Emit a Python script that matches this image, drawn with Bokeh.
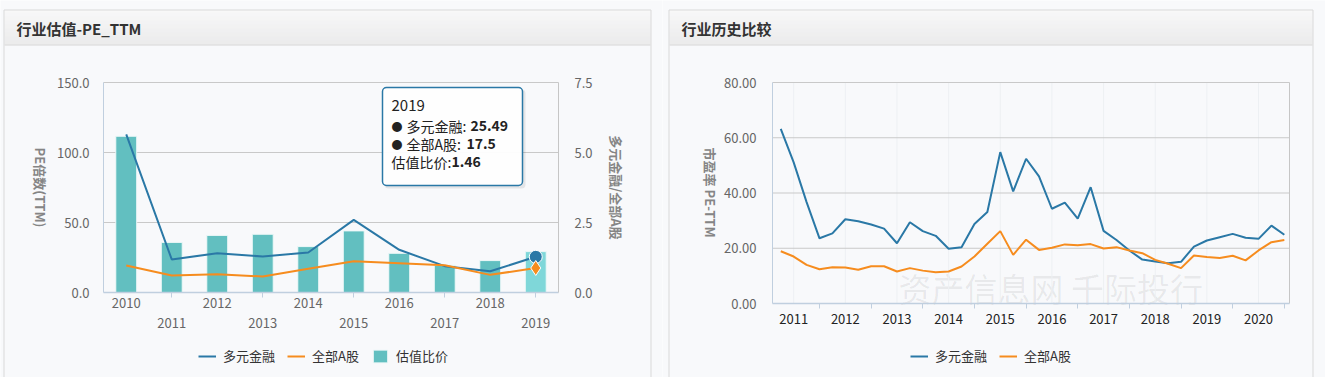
import math
from bokeh.plotting import figure
from bokeh.layouts import row
from bokeh.models import (ColumnDataSource, Range1d, LinearAxis, FixedTicker,
                          NumeralTickFormatter, Legend, LegendItem, Label, BoxAnnotation,
                          CustomJSTickFormatter)
from bokeh.embed import file_html
from bokeh.resources import INLINE

# ---------------- data: left chart (annual) ----------------
years = ["2010", "2011", "2012", "2013", "2014", "2015", "2016", "2017", "2018", "2019"]
sector_pe = [112.9, 23.6, 28.1, 25.7, 28.6, 51.9, 30.5, 18.8, 15.2, 25.49]   # 多元金融
market_pe = [19.3, 12.1, 13.1, 11.4, 16.9, 22.4, 20.9, 19.5, 12.6, 17.5]     # 全部A股
pe_ratio = [5.58, 1.79, 2.04, 2.08, 1.64, 2.20, 1.40, 0.97, 1.14, 1.46]      # 估值比价
left_ticks = [0, 50, 100, 150]
right_ticks = [0, 2.5, 5, 7.5]

# ---------------- data: right chart (quarterly) ----------------
quarters = ["2011-03", "2011-06", "2011-09", "2011-12", "2012-03", "2012-06", "2012-09", "2012-12",
            "2013-03", "2013-06", "2013-09", "2013-12", "2014-03", "2014-06", "2014-09", "2014-12",
            "2015-03", "2015-06", "2015-09", "2015-12", "2016-03", "2016-06", "2016-09", "2016-12",
            "2017-03", "2017-06", "2017-09", "2017-12", "2018-03", "2018-06", "2018-09", "2018-12",
            "2019-03", "2019-06", "2019-09", "2019-12", "2020-03", "2020-06", "2020-09", "2020-12"]
sector_hist = [63.2, 51.1, 36.7, 23.6, 25.4, 30.5, 29.8, 28.6, 27.1, 21.8,
               29.4, 26.2, 24.5, 19.8, 20.4, 28.8, 33.1, 54.8, 40.6, 52.4,
               46.0, 34.3, 36.5, 30.7, 42.1, 26.3, 23.0, 19.2, 15.9, 15.2,
               14.6, 15.1, 20.6, 22.8, 24.0, 25.2, 23.8, 23.4, 28.2, 24.9]
market_hist = [18.9, 17.0, 14.0, 12.4, 13.1, 13.0, 12.2, 13.5, 13.5, 11.6,
               12.8, 11.9, 11.3, 11.6, 13.4, 17.0, 21.6, 26.2, 17.6, 23.1,
               19.4, 20.2, 21.4, 21.1, 21.5, 19.9, 20.4, 19.2, 18.2, 15.8,
               14.4, 12.8, 17.4, 16.8, 16.5, 17.3, 15.6, 19.2, 22.2, 23.0]
year_labels = ["2011", "2012", "2013", "2014", "2015", "2016", "2017", "2018", "2019", "2020"]
hist_ticks = [0, 20, 40, 60, 80]

# ---------------- styles ----------------
FONT = "Noto Sans CJK SC"
BG = "#f8f9fb"
BORDER = "#d9d9d9"
BLUE = "#2a78a6"
ORANGE = "#f68c1e"
TEAL = "#62bfc0"
TEAL_HI = "#7fd7d9"
GRID = "#c9c9c9"
AXIS = "#c0cfdf"
H = 377


def add_panel(p, fx, fy, left, right, title):
    """Panel frame + gradient header (page pixel positions -> data via fx/fy)."""
    n = 34
    for i in range(n):
        t = i / (n - 1)
        c = int(round(0xf7 * (1 - t) + 0xe7 * t))
        p.add_layout(BoxAnnotation(left=fx(left + 1), right=fx(right), top=fy(10 + i),
                                   bottom=fy(11 + i), fill_color="#%02x%02x%02x" % (c, c, c),
                                   fill_alpha=1, line_color=None, level="underlay"))
    p.add_layout(BoxAnnotation(left=fx(left + 1), right=fx(right), top=fy(44), bottom=fy(45),
                               fill_color="#d5d5d5", fill_alpha=1, line_color=None,
                               level="underlay"))
    p.add_layout(BoxAnnotation(left=fx(left + 0.5), right=fx(right + 0.5), top=fy(9.5),
                               bottom=fy(440), fill_alpha=0, line_color=BORDER, line_alpha=1,
                               line_width=1, level="underlay"))
    p.add_layout(Label(x=fx(left + 13), y=fy(27.5), text=title, text_baseline="middle",
                       text_font=FONT, text_font_size="15px", text_font_style="bold",
                       text_color="#333333"))


def style_legend(lg):
    lg.background_fill_alpha = 0
    lg.border_line_color = None
    lg.label_text_font = FONT
    lg.label_text_font_size = "13px"
    lg.label_text_color = "#333333"
    lg.glyph_width = 18
    lg.glyph_height = 16
    lg.label_standoff = 7
    lg.spacing = 12
    lg.padding = 2
    lg.margin = 0


def style_axis(a, color="#666666"):
    a.major_label_text_font = FONT
    a.major_label_text_font_size = "13px"
    a.major_label_text_color = color
    a.minor_tick_line_color = None


def axis_title(p, x, y, text):
    p.add_layout(Label(x=x, y=y, angle=-math.pi / 2, text=text, text_align="center",
                       text_baseline="middle", text_font=FONT, text_font_size="13px",
                       text_font_style="bold", text_color="#858585"))


# ======================= LEFT CHART =======================
# plot area in page pixels: x 103..558, y 82..292 ; canvas 0..662 x 0..377
XL0, XL1 = 2009.5, 2019.5
KX1 = 455 / (XL1 - XL0)
KY1 = 210 / 150
KR1 = 210 / 7.5


def lx(px):
    return XL0 + (px - 103) / KX1


def ly(py):
    return (292 - py) / KY1


def lr(py):
    return (292 - py) / KR1


year_num = [int(y) for y in years]
src1 = ColumnDataSource(dict(
    x=year_num, sector=sector_pe, market=market_pe, ratio=pe_ratio,
    color=[TEAL] * (len(years) - 1) + [TEAL_HI],
))

p1 = figure(width=662, height=H, x_range=Range1d(lx(0), lx(662)), y_range=Range1d(ly(H), ly(0)),
            output_backend="svg", toolbar_location=None, title=None, min_border=0,
            background_fill_color=BG, border_fill_color=BG, outline_line_color=None)
p1.extra_y_ranges = {"ratio": Range1d(lr(H), lr(0))}
p1.grid.visible = False

add_panel(p1, lx, ly, 3, 650, "行业估值-PE_TTM")

# horizontal grid lines inside the plot area
p1.segment(x0=XL0, x1=XL1, y0=left_ticks[1:], y1=left_ticks[1:], line_color=GRID, line_width=1)

bars = p1.vbar(x="x", top="ratio", width=0.46, y_range_name="ratio", source=src1,
               fill_color="color", line_color="#eef8f8", line_width=1)
l1 = p1.line(x="x", y="sector", source=src1, line_color=BLUE, line_width=2)
l2 = p1.line(x="x", y="market", source=src1, line_color=ORANGE, line_width=2)
p1.scatter(x=[year_num[-1]], y=[sector_pe[-1]], marker="circle", size=13,
           fill_color=BLUE, line_color="white", line_width=1)
p1.scatter(x=[year_num[-1]], y=[market_pe[-1]], marker="diamond", size=15,
           fill_color=ORANGE, line_color="white", line_width=1)

ay = p1.yaxis[0]
ay.fixed_location = XL0
ay.bounds = (0, 150)
ay.ticker = FixedTicker(ticks=left_ticks)
ay.formatter = NumeralTickFormatter(format="0.0")
ay.axis_line_color = AXIS
ay.major_tick_line_color = None
ay.major_label_standoff = 8
style_axis(ay)

ar = LinearAxis(y_range_name="ratio", fixed_location=XL1, bounds=(0, 7.5),
                ticker=FixedTicker(ticks=right_ticks),
                formatter=NumeralTickFormatter(format="0.0"))
ar.axis_line_color = "#c6c6c6"
ar.major_tick_line_color = None
ar.major_label_standoff = 10
style_axis(ar)
p1.add_layout(ar, "right")

ax = p1.xaxis[0]
ax.fixed_location = 0
ax.bounds = (XL0, XL1)
ax.ticker = FixedTicker(ticks=year_num[0::2])
ax.formatter = CustomJSTickFormatter(code="return tick.toFixed(0);")
ax.axis_line_color = AXIS
ax.axis_line_width = 1.5
ax.major_tick_line_color = None
ax.major_tick_out = 0
ax.major_tick_in = 0
ax.major_label_standoff = 5
style_axis(ax)

ax2 = LinearAxis(fixed_location=0, bounds=(XL0, XL1), ticker=FixedTicker(ticks=year_num[1::2]),
                 formatter=CustomJSTickFormatter(code="return tick.toFixed(0);"))
ax2.axis_line_color = None
ax2.major_tick_line_color = AXIS
ax2.major_tick_out = 5
ax2.major_tick_in = 0
ax2.major_label_standoff = 20
style_axis(ax2)
p1.add_layout(ax2, "below")

leg1 = Legend(items=[LegendItem(label="多元金融", renderers=[l1]),
                     LegendItem(label="全部A股", renderers=[l2]),
                     LegendItem(label="估值比价", renderers=[bars])],
              orientation="horizontal", location=(198, 12))
style_legend(leg1)
p1.add_layout(leg1, "center")

axis_title(p1, lx(40), ly(187), "PE倍数(TTM)")
axis_title(p1, lx(616), ly(187), "多元金融/全部A股")

# static tooltip for the last year
p1.add_layout(BoxAnnotation(left=lx(384), right=lx(525), top=ly(89), bottom=ly(188),
                            fill_color="black", fill_alpha=0.08, line_color=None,
                            border_radius=4))
p1.add_layout(BoxAnnotation(left=lx(382), right=lx(522), top=ly(87), bottom=ly(185),
                            fill_color="white", fill_alpha=0.96, line_color=BLUE,
                            line_alpha=1, line_width=1.5, border_radius=4))
tip_rows = [
    (391, 105, years[-1], "normal", "15px"),
    (391, 125, "●", "normal", "11px"),
    (406, 125, "多元金融:", "normal", "14px"),
    (470, 125, f"{sector_pe[-1]:.2f}", "bold", "14px"),
    (391, 143, "●", "normal", "11px"),
    (406, 143, "全部A股:", "normal", "14px"),
    (466, 143, f"{market_pe[-1]:g}", "bold", "14px"),
    (391, 161, "估值比价:", "normal", "14px"),
    (451, 161, f"{pe_ratio[-1]:.2f}", "bold", "14px"),
]
for px, py, txt, style, size in tip_rows:
    p1.add_layout(Label(x=lx(px), y=ly(py), text=txt, text_align="left", text_baseline="middle",
                        text_font=FONT, text_font_size=size, text_font_style=style,
                        text_color="#222222"))

# ======================= RIGHT CHART =======================
# plot area in page pixels: x 772..1289, y 82..303 ; canvas at page x 662..1325
X0, X1 = 2011.09, 2021.1
KX2 = 517 / (X1 - X0)
KY2 = 221 / 80


def rx(px):
    return X0 + (px - 772) / KX2


def ry(py):
    return (303 - py) / KY2


tx = [int(q[:4]) + int(q[5:]) / 12 for q in quarters]
src2 = ColumnDataSource(dict(t=tx, sector=sector_hist, market=market_hist))

p2 = figure(width=663, height=H, x_range=Range1d(rx(662), rx(1325)),
            y_range=Range1d(ry(H), ry(0)), output_backend="svg", toolbar_location=None,
            title=None, min_border=0, background_fill_color=BG, border_fill_color=BG,
            outline_line_color=None)
p2.grid.visible = False

add_panel(p2, rx, ry, 668, 1312, "行业历史比较")

p2.add_layout(Label(x=rx(898), y=ry(287), text="资产信息网 千际投行", text_baseline="middle",
                    text_font=FONT, text_font_size="33px", text_color="#000000",
                    text_alpha=0.07, level="underlay"))

year_mid = [int(y) + 0.5 for y in year_labels]
year_edge = [int(y) + 1 for y in year_labels]

# grid + plot border
p2.segment(x0=year_mid, x1=year_mid, y0=0, y1=hist_ticks[-1], line_color="#edf0f3", line_width=1)
p2.segment(x0=X0, x1=X1, y0=hist_ticks[1:], y1=hist_ticks[1:], line_color=GRID, line_width=1)
p2.segment(x0=[X1], x1=[X1], y0=[0], y1=[hist_ticks[-1]], line_color="#c6c6c6", line_width=1)

m1 = p2.line(x="t", y="sector", source=src2, line_color=BLUE, line_width=2)
m2 = p2.line(x="t", y="market", source=src2, line_color=ORANGE, line_width=2)

bx = p2.xaxis[0]
bx.fixed_location = 0
bx.bounds = (X0, X1)
bx.ticker = FixedTicker(ticks=year_mid, minor_ticks=year_edge)
bx.formatter = CustomJSTickFormatter(code="return String(Math.floor(tick));")
bx.axis_line_color = AXIS
bx.axis_line_width = 1.5
bx.major_tick_line_color = None
bx.major_tick_out = 5
bx.major_tick_in = 0
bx.major_label_standoff = 5
style_axis(bx, "#222222")
bx.minor_tick_line_color = AXIS
bx.minor_tick_out = 5
bx.minor_tick_in = 0

by = p2.yaxis[0]
by.fixed_location = X0
by.bounds = (0, 80)
by.ticker = FixedTicker(ticks=hist_ticks)
by.formatter = NumeralTickFormatter(format="0.00")
by.axis_line_color = AXIS
by.major_tick_line_color = None
by.major_label_standoff = 10
style_axis(by)

axis_title(p2, rx(710), ry(192), "市盈率 PE-TTM")

leg2 = Legend(items=[LegendItem(label="多元金融", renderers=[m1]),
                     LegendItem(label="全部A股", renderers=[m2])],
              orientation="horizontal", location=(248, 12))
style_legend(leg2)
p2.add_layout(leg2, "center")

root = row(p1, p2, spacing=0)
open("out.html", "w").write(file_html(root, INLINE))
